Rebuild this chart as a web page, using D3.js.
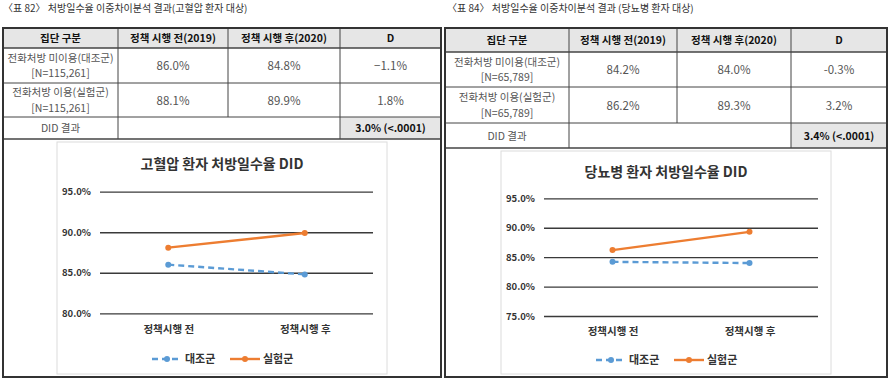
<!DOCTYPE html>
<html><head><meta charset="utf-8">
<script src="https://cdn.jsdelivr.net/npm/d3@7"></script>
<style>
html,body{margin:0;padding:0;background:#fff;}
svg{display:block;font-family:"Noto Sans CJK KR","Noto Sans",sans-serif;}
</style></head>
<body><svg id="c" width="889" height="383"></svg>
<script>
// ---------- data ----------
const categories = ["정책시행 전", "정책시행 후"];
const seriesNames = ["대조군", "실험군"];
const htnControl = [86.0, 84.8];
const htnTreatment = [88.1, 89.9];
const dmControl = [84.2, 84.0];
const dmTreatment = [86.2, 89.3];
const htnTicks = [80, 85, 90, 95];
const dmTicks = [75, 80, 85, 90, 95];
const tableHeader = ["집단 구분", "정책 시행 전(2019)", "정책 시행 후(2020)", "D"];
const rowLabels = ["전화처방 미이용(대조군)", "전화처방 이용(실험군)"];
const htnN = "[N=115,261]";
const dmN = "[N=65,789]";
const htnD = ["−1.1%", "1.8%"];
const dmD = ["-0.3%", "3.2%"];
const didLabel = "DID 결과";
const htnDid = "3.0% (<.0001)";
const dmDid = "3.4% (<.0001)";
const htnCaption = "〈표 82〉 처방일수율 이중차이분석 결과(고혈압 환자 대상)";
const dmCaption = "〈표 84〉 처방일수율 이중차이분석 결과 (당뇨병 환자 대상)";
const htnTitle = "고혈압 환자 처방일수율 DID";
const dmTitle = "당뇨병 환자 처방일수율 DID";

// ---------- layout ----------
const panels = [
  {caption: htnCaption, capX: 3, cols: [3,118,228,340,441], rows: [28,48,83,117,139,377],
   control: htnControl, treat: htnTreatment, N: htnN, D: htnD, did: htnDid,
   title: htnTitle, titleY: 169, ticks: htnTicks, yDomain: [80,95], yRange: [313.3,191.7],
   box: [57,142,387,374], gx: [100,373], catY: 335, legY: 359, legX: 152},
  {caption: dmCaption, capX: 447, cols: [445,569,677,791,887], rows: [28,52,87,123,148,377],
   control: dmControl, treat: dmTreatment, N: dmN, D: dmD, did: dmDid,
   title: dmTitle, titleY: 177, ticks: dmTicks, yDomain: [75,95], yRange: [316,198.3],
   box: [501,151,831,374], gx: [544,818], catY: 337, legY: 360, legX: 596}
];
const blue = "#5b9bd5", orange = "#ed7d31";
const fmt = v => d3.format(".1f")(v) + "%";
const svg = d3.select("#c");

panels.forEach(p => {
  const g = svg.append("g");
  g.append("text").attr("x", p.capX).attr("y", 12).attr("font-size", 10)
    .attr("fill", "#333").text(p.caption);
  const c = p.cols, r = p.rows;
  g.append("rect").attr("x", c[0]).attr("y", r[0]).attr("width", c[4]-c[0]).attr("height", r[1]-r[0]).attr("fill", "#e6e6e6");
  g.append("rect").attr("x", c[3]).attr("y", r[3]).attr("width", c[4]-c[3]).attr("height", r[4]-r[3]).attr("fill", "#e6e6e6");
  const ln = (x1,y1,x2,y2,w,col) => g.append("line").attr("x1",x1).attr("y1",y1).attr("x2",x2).attr("y2",y2)
      .attr("stroke", col||"#444").attr("stroke-width", w||1);
  [r[1], r[2], r[3], r[4]].forEach((y,i) => ln(c[0], y, c[4], y, i===0||i===3 ? 1.3 : 1));
  ln(c[1], r[0], c[1], r[4]);
  ln(c[2], r[0], c[2], r[3]);
  ln(c[3], r[0], c[3], r[4]);
  g.append("rect").attr("x", c[0]).attr("y", r[0]).attr("width", c[4]-c[0]).attr("height", r[5]-r[0])
    .attr("fill", "none").attr("stroke", "#333").attr("stroke-width", 2);
  const cx = i => (c[i]+c[i+1])/2;
  const cy = i => (r[i]+r[i+1])/2;
  tableHeader.forEach((t,i) => g.append("text").attr("x", cx(i)).attr("y", cy(0)+4)
    .attr("text-anchor","middle").attr("font-size", 10.5).attr("font-weight","bold").attr("fill","#111").text(t));
  const series = [p.control, p.treat];
  series.forEach((s, k) => {
    const ry = cy(k+1);
    g.append("text").attr("x", cx(0)).attr("y", ry-4).attr("text-anchor","middle").attr("font-size", 10.5)
      .attr("fill","#555").text(rowLabels[k]);
    g.append("text").attr("x", cx(0)).attr("y", ry+11.5).attr("text-anchor","middle").attr("font-size", 10.5)
      .attr("fill","#555").text(p.N);
    s.forEach((v,j) => g.append("text").attr("x", cx(j+1)).attr("y", ry+4.5).attr("text-anchor","middle")
      .attr("font-size", 11.5).attr("fill","#555").text(fmt(v)));
    g.append("text").attr("x", cx(3)).attr("y", ry+4.5).attr("text-anchor","middle")
      .attr("font-size", 11.5).attr("fill","#555").text(p.D[k]);
  });
  g.append("text").attr("x", cx(0)).attr("y", cy(3)+4).attr("text-anchor","middle").attr("font-size", 10.5)
    .attr("fill","#555").text(didLabel);
  g.append("text").attr("x", cx(3)).attr("y", cy(3)+4).attr("text-anchor","middle").attr("font-size", 10.5)
    .attr("font-weight","bold").attr("fill","#111").text(p.did);

  const b = p.box;
  g.append("rect").attr("x", b[0]).attr("y", b[1]).attr("width", b[2]-b[0]).attr("height", b[3]-b[1])
    .attr("fill", "#fff").attr("stroke", "#dcdcdc");
  g.append("text").attr("x", (b[0]+b[2])/2).attr("y", p.titleY).attr("text-anchor","middle")
    .attr("font-size", 14).attr("font-weight","bold").attr("fill","#333").text(p.title);

  const x = d3.scalePoint().domain(categories).range(p.gx).padding(0.5);
  const y = d3.scaleLinear().domain(p.yDomain).range(p.yRange);
  const yAxis = d3.axisLeft(y).tickValues(p.ticks).tickSize(-(p.gx[1]-p.gx[0])).tickPadding(9)
    .tickFormat(d => d3.format(".1f")(d) + "%");
  const ag = g.append("g").attr("transform", `translate(${p.gx[0]},0)`).call(yAxis);
  ag.select(".domain").remove();
  ag.selectAll(".tick line").attr("stroke", "#3a3a3a").attr("stroke-width", 1.3);
  ag.selectAll(".tick text").attr("font-size", 9.5).attr("font-weight","bold").attr("fill","#333")
    .attr("font-family", '"Noto Sans CJK KR",sans-serif');

  const xAxis = d3.axisBottom(x).tickSize(0).tickPadding(0);
  const xg = g.append("g").attr("transform", `translate(0,${p.catY-9})`).call(xAxis);
  xg.select(".domain").remove();
  xg.selectAll(".tick text").attr("font-size", 10.5).attr("font-weight","bold").attr("fill","#333")
    .attr("font-family", '"Noto Sans CJK KR",sans-serif');

  const line = d3.line().x((d,i) => x(categories[i])).y(d => y(d));
  const sdefs = [
    {vals: p.control, color: blue, dash: "6,4"},
    {vals: p.treat, color: orange, dash: null}
  ];
  sdefs.forEach(sd => {
    g.append("path").datum(sd.vals).attr("d", line).attr("fill","none").attr("stroke", sd.color)
      .attr("stroke-width", 2.4).attr("stroke-dasharray", sd.dash);
    g.selectAll(null).data(sd.vals).enter().append("circle")
      .attr("cx", (d,i) => x(categories[i])).attr("cy", d => y(d)).attr("r", 3).attr("fill", sd.color);
  });

  const lg = g.append("g").attr("transform", `translate(${p.legX},${p.legY})`);
  const items = [{n: seriesNames[0], color: blue, dash: "6,4", x0: 0}, {n: seriesNames[1], color: orange, dash: null, x0: 78}];
  items.forEach(it => {
    lg.append("line").attr("x1", it.x0).attr("x2", it.x0 + 30).attr("y1", 0).attr("y2", 0)
      .attr("stroke", it.color).attr("stroke-width", 2.4).attr("stroke-dasharray", it.dash);
    lg.append("circle").attr("cx", it.x0 + 15).attr("cy", 0).attr("r", 3).attr("fill", it.color);
    lg.append("text").attr("x", it.x0 + 33).attr("y", 4).attr("font-size", 11).attr("font-weight","bold")
      .attr("fill","#333").text(it.n);
  });
});
</script></body></html>
